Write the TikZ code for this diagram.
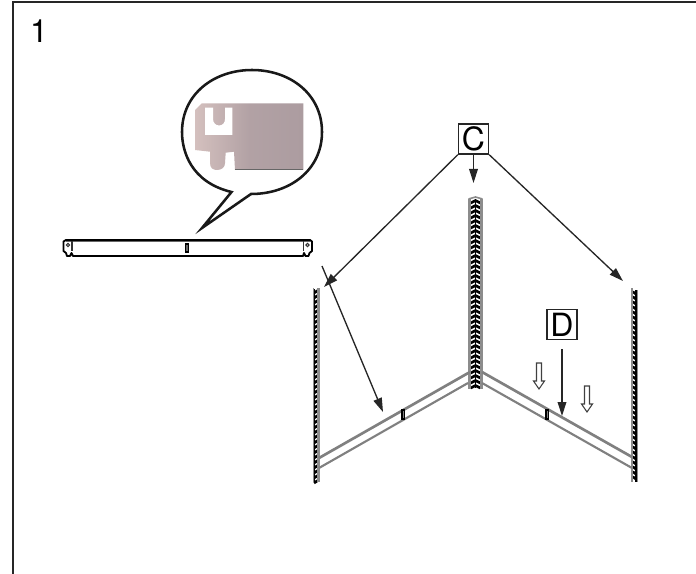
\documentclass[tikz,border=0pt]{standalone}
\usepackage{fontspec}
\setmainfont{TeX Gyre Heros}
\usetikzlibrary{arrows.meta}
\definecolor{beamgray}{gray}{0.5}
\definecolor{stripgray}{gray}{0.55}
\definecolor{platelight}{RGB}{212,192,190}
\definecolor{platedark}{RGB}{172,156,160}
\tikzset{
    callout/.style={draw=black!85,line width=1pt,fill=white,inner sep=0pt,minimum size=22.5pt,font=\fontsize{24}{24}\selectfont},
    pointer/.style={draw=black!85,line width=1pt,-{Triangle[length=10.5pt,width=6.5pt]}},
    beam/.style={draw=beamgray,line width=2pt},
    hollow/.style={draw=black!75,line width=0.8pt,fill=white},
    rung/.style={black,line width=2pt},
}
\begin{document}
\begin{tikzpicture}[x=0.75pt,y=-0.75pt]
    \useasboundingbox (0,0) rectangle (696,574);
    % page frame
    \draw[black!85,line width=1.5pt] (12.5,574) -- (12.5,2.5) -- (696,2.5);
    \node[font=\fontsize{24}{24}\selectfont] (stepnum) at (39,31) {1};
    % magnifier bubble
    \draw[black!90,line width=1.9pt,fill=white,line join=miter]
        (231.5,192) .. controls (190,182) and (182,150) .. (182,132)
        .. controls (182,94) and (214,70) .. (252,70)
        .. controls (290,70) and (322,94) .. (322,132)
        .. controls (322,170) and (290,194) .. (251,194)
        -- (202,228) -- cycle;
    \shade[left color=platelight,right color=platedark,middle color=platedark!85!platelight]
        (201.7,103.3) -- (195,110) -- (195,150) -- (210,151.7) -- (210,163)
        .. controls (210,168) and (213,170) .. (217,170)
        .. controls (222,170) and (225,167) .. (225,163)
        -- (225.7,152.7) -- (234,151.7) -- (235,170) -- (303.3,170) -- (303.3,103.3) -- cycle;
    \draw[black!60,line width=0.6pt] (235,169.5) -- (303.3,169.5);
    \fill[white] (205,107.7) -- (213,107.7) -- (213,119)
        .. controls (213,123) and (216,125.5) .. (219,125.5)
        .. controls (222.5,125.5) and (225,123) .. (225,119)
        -- (225,107.7) -- (232.3,107.7) -- (232.3,135) -- (205,135) -- cycle;
    % loose rail
    \draw[black,line width=1.4pt,fill=white,line join=round]
        (66,240) -- (310,240) -- (312,241.5) -- (312,251) -- (309.5,253) -- (308.5,256) -- (305.5,256)
        -- (304,253) -- (303,256) -- (73,256) -- (71.5,253) -- (70,256) -- (67,256) -- (66,253)
        -- (63.5,251) -- (63.5,241.5) -- cycle;
    \draw[black!60,line width=0.8pt] (66,241.5) -- (310,241.5);
    \foreach \xa/\xb in {68/72,307.5/303.5}{
        \draw[black!80,line width=0.8pt] (\xa,245) circle[radius=1.6];
        \draw[black!80,line width=0.8pt] (\xb,241) -- (\xb,251);
    }
    \draw[black,line width=0.9pt,fill=black!60] (185.5,244) rectangle (188.5,252);
    % left column
    \foreach \y in {292,297,...,482}{
        \draw[rung] (314,\y+1) -- (317.3,\y-1.2);
    }
    \draw[black,line width=0.9pt] (314.2,289) -- (314.2,482);
    \draw[black,line width=0.6pt] (317.2,289) -- (317.2,482);
    \draw[stripgray,line width=1.6pt] (318.5,288) -- (318.5,482);
    \draw[stripgray,line width=0.7pt] (313.2,288) -- (313.2,482);
    % right column
    \foreach \y in {293,298,...,482}{
        \draw[rung] (632.8,\y-1.2) -- (636,\y+1);
    }
    \draw[black,line width=0.9pt] (636,290) -- (636,482);
    \draw[black,line width=0.6pt] (632.8,290) -- (632.8,482);
    \draw[stripgray,line width=1.6pt] (631.7,288) -- (631.7,482);
    \draw[stripgray,line width=0.7pt] (637,290) -- (637,482);
    % middle column
    \foreach \y in {201,206,...,386}{
        \draw[black,line width=2pt] (470.8,\y+2) -- (475.5,\y-0.5) -- (480.2,\y+2);
    }
    \draw[black,line width=1.1pt] (475.5,199) -- (475.5,388);
    \draw[stripgray,line width=2.2pt] (469.4,199) -- (469.4,389);
    \draw[stripgray,line width=2.2pt] (481.6,199) -- (481.6,389);
    \draw[stripgray,line width=1.2pt] (468.5,199) -- (475.5,197) -- (482.5,199);
    % beams
    \draw[beam] (319,458) -- (470,372);
    \draw[beam,line width=1.6pt] (319,468) -- (468,383);
    \draw[beam] (632,457) -- (482,372);
    \draw[beam,line width=1.6pt] (632,468) -- (482,383);
    \draw[black,line width=0.9pt,fill=black!50] (402,410) rectangle (404.5,419);
    \draw[black,line width=0.9pt,fill=black!50] (546,410) rectangle (548.5,419);
    % labels and pointers
    \node[callout] (labC) at (473.5,139) {C};
    \node[callout] (labD) at (562,324.5) {D};
    \coordinate (tipL) at (324,287);
    \coordinate (tipM) at (473.5,183);
    \coordinate (tipR) at (623,281);
    \coordinate (railfrom) at (322,266);
    \coordinate (railto) at (383,412);
    \coordinate (beamfrom) at (562,349);
    \coordinate (beamto) at (562,416);
    \draw[pointer] (labC.south west) -- (tipL);
    \draw[pointer] (labC.south) -- (tipM);
    \draw[pointer] (labC.south east) -- (tipR);
    \draw[pointer] (railfrom) -- (railto);
    \draw[pointer] (beamfrom) -- (beamto);
    % push down arrows
    \foreach \x/\y in {539/363,587/386}{
        \draw[hollow] (\x-2.5,\y) -- (\x+2.5,\y) -- (\x+2.5,\y+18) -- (\x+5.5,\y+18)
            -- (\x,\y+26) -- (\x-5.5,\y+18) -- (\x-2.5,\y+18) -- cycle;
    }
\end{tikzpicture}
\end{document}
